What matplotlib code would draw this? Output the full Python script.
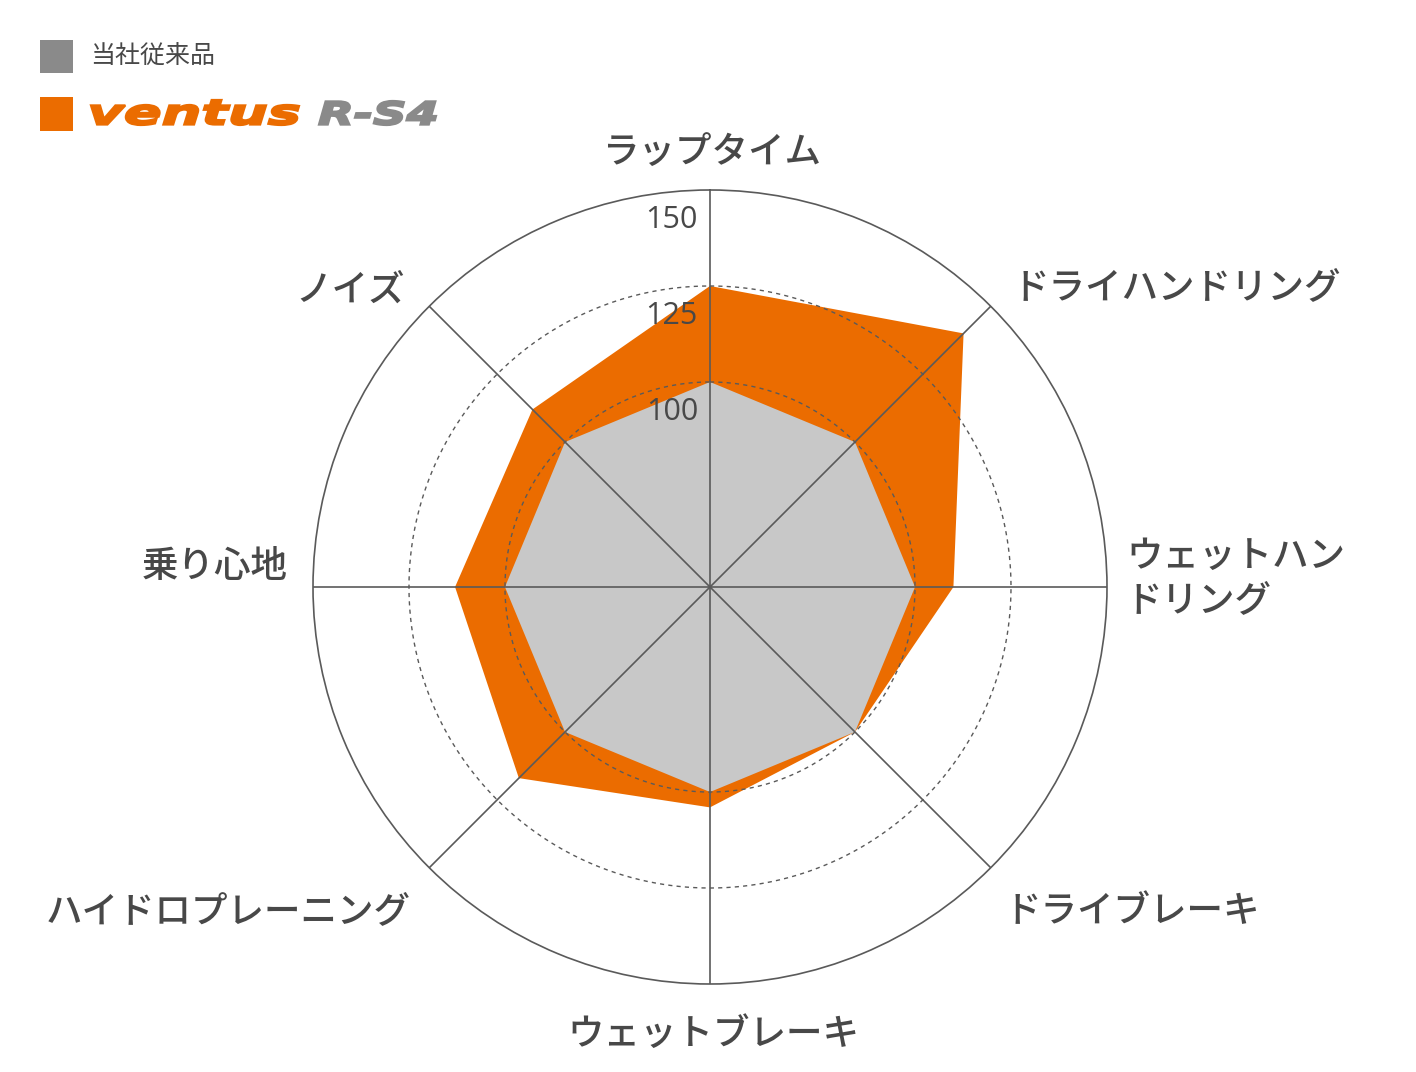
import numpy as np
import matplotlib
matplotlib.use("Agg")
import matplotlib.pyplot as plt
from matplotlib.patches import Rectangle, PathPatch
from matplotlib.textpath import TextPath
from matplotlib.font_manager import FontProperties
from matplotlib.transforms import Affine2D, IdentityTransform

plt.rcParams['font.family'] = ['Noto Sans CJK JP', 'DejaVu Sans']

# data
categories = ["ラップタイム", "ドライハンドリング", "ウェットハン\nドリング", "ドライブレーキ",
              "ウェットブレーキ", "ハイドロプレーニング", "乗り心地", "ノイズ"]
conventional = [100, 100, 100, 100, 100, 100, 100, 100]
rs4 = [125, 140, 110, 100, 104, 117, 113, 112]
ticks = [100, 125, 150]
legend_labels = ["当社従来品", "ventus", "R-S4"]

ORANGE = "#EB6C00"
GRAY_FILL = "#C8C8C8"
GRAY_LEG = "#8A8A8A"
LINE = "#5a5a5a"
TEXT = "#484848"

W, H = 1416, 1072
fig = plt.figure(figsize=(W / 100, H / 100), dpi=100)
cx, cy, R = 710, 587, 397
ax = fig.add_axes([(cx - R) / W, (H - cy - R) / H, 2 * R / W, 2 * R / H], projection="polar")
ax.set_theta_zero_location("N")
ax.set_theta_direction(-1)
ax.set_ylim(46.6, 150)
ax.grid(False)
ax.set_xticks([])
ax.set_yticks([])
ax.spines["polar"].set_color(LINE)
ax.spines["polar"].set_linewidth(1.2)

n = len(categories)
angles = np.linspace(0, 2 * np.pi, n, endpoint=False)
a_closed = np.append(angles, angles[0])

ax.fill(a_closed, rs4 + rs4[:1], color=ORANGE, lw=0, zorder=2)
ax.fill(a_closed, conventional + conventional[:1], color=GRAY_FILL, lw=0, zorder=3)

# grid on top of fills
th = np.linspace(0, 2 * np.pi, 721)
for t in ticks[:-1]:
    ax.plot(th, np.full_like(th, t), color=LINE, lw=1.0, ls=(0, (3, 3)), zorder=4)
for a in angles:
    ax.plot([a, a], [46.6, 150], color=LINE, lw=1.2, zorder=4)

# tick labels
for t in ticks:
    ax.annotate(str(t), xy=(0, t), xytext=(-12, -30), textcoords="offset pixels",
                ha="right", va="center", fontsize=22, color=TEXT,
                family=["Open Sans", "DejaVu Sans"])

# category labels: offsets from spoke end (pixels)
label_pos = [((2, 38), "center"), ((22, 19), "left"), ((19, 9), "left"), ((14, -43), "left"),
             ((3, -50), "center"), ((-19, -43), "right"), ((-25, 21), "right"), ((-24, 17), "right")]
for a, lab, (off, ha) in zip(angles, categories, label_pos):
    ax.annotate(lab, xy=(a, 150), xytext=off, textcoords="offset pixels",
                ha=ha, va="center", fontsize=26.3, color=TEXT, weight="medium",
                linespacing=1.22, annotation_clip=False)

# legend
fig.patches.append(Rectangle((40 / W, 1 - 73 / H), 33 / W, 33 / H, transform=fig.transFigure,
                             color=GRAY_LEG, lw=0))
fig.patches.append(Rectangle((40 / W, 1 - 131 / H), 33 / W, 34 / H, transform=fig.transFigure,
                             color=ORANGE, lw=0))
fig.text(90 / W, 1 - 56 / H, legend_labels[0], fontsize=18, color=TEXT, va="center", ha="left")


def logo_text(s, x0, x1, y_top, y_bot, color):
    tp = TextPath((0, 0), s, size=40,
                  prop=FontProperties(family="DejaVu Sans", weight="bold", style="italic"))
    ext = tp.get_extents()
    sx = (x1 - x0 - 2) / ext.width
    sy = (y_bot - y_top - 2) / ext.height
    tr = Affine2D().translate(-ext.x0, -ext.y0).scale(sx, sy).translate(x0 + 1, H - y_bot + 1)
    fig.patches.append(PathPatch(tr.transform_path(tp), facecolor=color, edgecolor=color,
                                 lw=1.6, transform=IdentityTransform()))


logo_text(legend_labels[1], 90, 300, 99, 126, ORANGE)
logo_text(legend_labels[2], 318, 437, 100, 126, GRAY_LEG)

fig.savefig("out.png", dpi=100, facecolor="white")
